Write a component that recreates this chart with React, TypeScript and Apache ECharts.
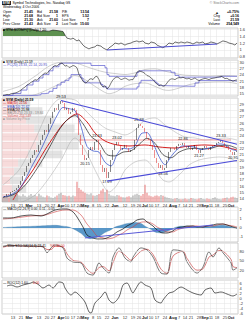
import React, { useEffect, useRef } from 'react';
import * as echarts from 'echarts';

// ---------------- data ----------------
const closes: number[] = [
  14.27, 14.43, 14.75, 14.59, 15.07, 15.23, 15.38, 15.70, 16.18, 16.82,
  17.61, 18.25, 19.20, 19.68, 20.47, 20.95, 21.74, 21.43, 22.54, 23.33, 24.13,
  24.92, 24.61, 25.88, 26.83, 27.79, 28.42, 28.10, 29.06, 29.53, 29.22,
  28.10, 28.42, 27.47, 27.79, 28.42, 28.10, 27.31, 24.13, 22.54, 20.95,
  20.15, 20.47, 21.74, 22.22, 21.74, 23.02, 23.33, 21.74, 19.36, 18.25,
  18.88, 17.29, 18.25, 20.15, 21.74, 22.54, 23.02, 22.54, 21.74, 22.06,
  22.54, 22.06, 21.43, 21.74, 21.74, 23.33, 25.24, 25.88, 25.56, 25.24,
  24.61, 23.65, 23.33, 22.54, 21.74, 20.47, 19.68, 18.88, 19.36, 18.56,
  18.88, 20.15, 21.43, 22.06, 22.06, 21.74, 22.38, 22.70, 22.54, 22.86,
  22.38, 22.06, 22.38, 21.74, 22.06, 22.54, 21.74, 21.27, 21.74, 22.06,
  22.38, 22.06, 21.74, 22.22, 22.38, 22.54, 22.86, 23.02, 23.33, 22.86,
  22.22, 22.38, 21.74, 21.43, 20.95, 21.43, 21.59,
];

const volumes: number[] = [
  220, 180, 260, 200, 300, 340, 420, 380, 300, 260,
  350, 280, 240, 300, 360, 280, 320, 260, 380, 300,
  240, 220, 300, 260, 200, 180, 240, 300, 380, 420,
  320, 300, 260, 280, 240, 300, 260, 920, 640, 560,
  480, 420, 380, 340, 400, 300, 280, 320, 360, 520,
  600, 440, 560, 380, 300, 280, 260, 320, 300, 240,
  220, 200, 240, 260, 220, 300, 340, 380, 320, 280,
  360, 780, 420, 300, 260, 240, 280, 300, 260, 320,
  280, 240, 200, 180, 160, 140, 160, 180, 140, 120,
  140, 160, 120, 140, 180, 160, 140, 120, 160, 180,
  140, 120, 160, 140, 120, 180, 220, 160, 140, 120,
  160, 180, 200, 160, 220, 240, 200, 180,
];

const tickIdx: number[] = [5, 9, 13, 18, 22, 25, 29, 32, 35, 38, 41, 45, 48, 52, 56, 61, 65, 68, 71, 74, 77, 81, 85, 88, 91, 94, 98, 101, 104, 107, 111, 114];
const tickText: string[] = ['13', '21', 'Mar', '13', '20', '27', 'Apr', '10', '17', '24', 'May', '8', '15', '22', 'Jun', '12', '19', '26', 'Jul', '10', '17', '24', 'Aug', '7', '14', '21', '28', 'Sep', '11', '18', '25', 'Oct'];
const monthNames: string[] = ['Mar', 'Apr', 'May', 'Jun', 'Jul', 'Aug', 'Sep', 'Oct'];

// relative strength panel
const rsIdx = [0, 3, 5, 8, 10, 13, 15, 18, 19, 20, 23, 25, 28, 30, 31, 32, 34, 35, 37, 38, 40, 41, 43, 44, 46, 47, 49, 50, 52, 53, 55, 56, 58, 59, 61, 62, 64, 65, 67, 68, 70, 71, 73, 74, 76, 77, 79, 80, 82, 83, 85, 86, 88, 89, 91, 92, 94, 95, 97, 98, 100, 101, 103, 104, 106, 107, 109, 110, 112, 113, 115, 116, 117];
const rsVal = [1.59, 1.61, 1.58, 1.61, 1.59, 1.61, 1.58, 1.55, 1.52, 1.55, 1.54, 1.57, 1.55, 1.53, 1.43, 1.34, 1.31, 1.34, 1.26, 1.29, 1.14, 1.09, 1.03, 1.06, 1.09, 1.14, 1.11, 1.06, 1.0, 1.06, 1.14, 1.2, 1.17, 1.2, 1.14, 1.17, 1.2, 1.23, 1.26, 1.23, 1.26, 1.2, 1.17, 1.23, 1.2, 1.14, 1.09, 1.06, 1.14, 1.2, 1.17, 1.23, 1.2, 1.23, 1.2, 1.23, 1.2, 1.17, 1.23, 1.2, 1.23, 1.17, 1.2, 1.23, 1.2, 1.17, 1.23, 1.26, 1.23, 1.2, 1.17, 1.14, 1.2];
const rsBaseline = 1.4;
const rsFillEnd = 31;
const rsTrend = [[52, 1.0], [107, 1.17]];

// moving averages / bands (main panel)
const emaFastIdx = [0, 3, 6, 9, 12, 15, 18, 21, 24, 27, 30, 33, 36, 39, 42, 45, 48, 51, 54, 57, 60, 63, 66, 69, 72, 75, 78, 81, 84, 87, 90, 93, 96, 99, 102, 105, 108, 111, 114, 117];
const emaFastVal = [14.3, 14.5, 15.0, 15.9, 17.6, 19.5, 21.2, 23.2, 25.3, 27.2, 28.5, 28.3, 28.0, 25.5, 22.3, 21.6, 21.4, 19.8, 19.2, 21.0, 22.0, 21.9, 22.4, 24.3, 24.5, 22.9, 20.7, 19.4, 20.7, 21.8, 22.4, 22.3, 22.2, 21.8, 22.0, 22.2, 22.7, 22.6, 21.9, 21.6];
const emaMidIdx = [0, 4, 8, 12, 16, 20, 24, 28, 32, 36, 40, 44, 48, 52, 56, 60, 64, 68, 72, 76, 80, 84, 88, 92, 96, 100, 104, 108, 112, 117];
const emaMidVal = [14.2, 14.5, 15.2, 16.5, 18.3, 20.3, 22.6, 24.9, 26.5, 27.2, 25.9, 23.9, 22.9, 21.0, 20.8, 21.4, 21.6, 22.6, 23.6, 22.8, 21.0, 20.5, 21.4, 21.9, 22.0, 21.9, 22.0, 22.4, 22.5, 22.0];
const maRedIdx = [5, 8, 15, 21, 26, 31, 37, 42, 46, 51, 57, 63, 71, 78, 86, 93, 101, 108, 113, 117];
const maRedVal = [13.8, 15.4, 18.56, 21.74, 24.13, 26.2, 27.47, 26.2, 24.45, 23.17, 22.54, 22.38, 22.54, 22.22, 22.06, 22.38, 22.54, 22.38, 22.06, 21.74];
const bbUpIdx = [0, 8, 16, 23, 29, 36, 41, 46, 51, 56, 61, 66, 71, 76, 81, 86, 91, 96, 101, 106, 111, 117];
const bbUpVal = [16.18, 18.56, 23.33, 28.10, 29.9, 29.69, 28.10, 26.51, 25.24, 24.61, 24.13, 24.92, 26.51, 26.83, 25.72, 24.61, 23.81, 23.65, 23.33, 23.49, 23.65, 23.33];
const bbLoIdx = [0, 8, 16, 23, 29, 36, 41, 46, 50, 53, 57, 61, 66, 71, 76, 80, 83, 88, 93, 98, 103, 108, 113, 117];
const bbLoVal = [13.0, 13.32, 14.59, 17.29, 20.15, 23.65, 21.74, 18.56, 16.18, 15.07, 16.18, 18.56, 19.84, 20.15, 18.56, 16.97, 16.66, 17.77, 19.36, 20.15, 20.47, 20.63, 20.47, 19.84];
const trendUpper = [[29, 29.6], [117, 22.65]];
const trendLower = [[52, 16.8], [117, 20.07]];
const resistance = [[38, 23.33], [114, 23.33]];
const topIdx = [29, 47, 57, 68, 90, 109];
const lowIdx = [41, 52, 80, 98, 115];

// volume by price (12 bins, bottom to top)
const vbpDown = [3, 5, 4, 6, 8, 13, 17, 18, 16, 12, 9, 7];
const vbpUp = [5, 7, 6, 8, 12, 17, 21, 22, 20, 14, 11, 7];

// price channel (panel 2)
const chanTop = [[0, 14.3], [5, 15.2], [9, 16.8], [12, 19.2], [15, 21.0], [18, 22.5], [20, 24.1], [23, 25.9], [25, 27.8], [28, 29.1], [29, 29.5], [43, 29.5], [44, 28.4], [49, 28.4], [51, 27.3], [52, 24.1], [53, 23.3], [66, 23.3], [67, 25.2], [68, 25.9], [82, 25.9], [84, 25.2], [86, 23.7], [88, 22.9], [107, 22.9], [109, 23.3], [117, 23.3]];
const chanBot = [[0, 14.3], [15, 14.3], [17, 14.6], [19, 15.1], [21, 15.4], [23, 16.2], [25, 17.6], [27, 19.2], [29, 20.5], [31, 21.4], [33, 22.5], [34, 24.1], [38, 24.1], [39, 22.5], [40, 21.0], [41, 20.2], [49, 19.4], [50, 18.3], [52, 17.3], [66, 17.3], [67, 18.3], [68, 20.2], [69, 21.4], [76, 20.5], [77, 19.7], [78, 18.9], [80, 18.6], [94, 18.6], [96, 20.2], [98, 21.3], [112, 21.3], [115, 21.0], [117, 21.0]];

// MACD
const macdIdx = [0, 4, 9, 14, 19, 23, 26, 30, 32, 35, 37, 40, 42, 45, 47, 50, 52, 55, 57, 60, 62, 65, 67, 70, 72, 75, 77, 80, 82, 85, 87, 90, 92, 95, 97, 100, 102, 105, 107, 110, 112, 115, 117];
const macdVal = [1.11, 1.11, 1.33, 1.44, 1.33, 1.67, 2.0, 2.11, 2.11, 1.78, 1.22, 0.11, -0.78, -1.11, -1.22, -1.22, -1.11, -0.78, -0.44, -0.11, 0.22, 0.56, 0.89, 1.0, 0.67, 0.22, -0.22, -0.56, -0.56, -0.33, 0, 0.11, 0.22, 0.22, 0.11, 0.11, 0.22, 0.33, 0.44, 0.44, 0.33, 0.11, 0];
const sigIdx = [0, 6, 14, 21, 26, 31, 35, 39, 42, 45, 47, 50, 52, 55, 57, 60, 62, 65, 67, 70, 72, 75, 77, 80, 82, 85, 87, 90, 92, 95, 97, 100, 102, 105, 107, 110, 112, 115, 117];
const sigVal = [1.0, 1.11, 1.33, 1.44, 1.78, 2.0, 2.0, 1.44, 0.44, -0.33, -0.89, -1.11, -1.22, -1.11, -0.89, -0.56, -0.22, 0.11, 0.44, 0.67, 0.67, 0.44, 0.11, -0.22, -0.44, -0.44, -0.22, 0, 0.11, 0.22, 0.22, 0.11, 0.22, 0.22, 0.33, 0.44, 0.33, 0.22, 0.11];
const histIdx = [0, 6, 11, 16, 21, 26, 30, 33, 36, 39, 41, 44, 46, 49, 51, 54, 56, 59, 61, 64, 66, 69, 71, 74, 76, 79, 81, 84, 86, 89, 94, 99, 102, 106, 110, 114, 117];
const histVal = [0.05, 0.12, 0.15, 0.2, 0.25, 0.3, 0.2, 0.1, -0.2, -0.6, -1.0, -1.2, -1.1, -0.8, -0.5, -0.2, 0.1, 0.3, 0.45, 0.55, 0.6, 0.5, 0.2, -0.15, -0.45, -0.55, -0.45, -0.2, 0.05, 0.2, 0.15, 0.05, 0.15, 0.25, 0.3, 0.1, -0.05];
const macdTrend = [[41, -1.11], [105, 0.33]];

// Stochastics
const stIdx = [0, 4, 8, 14, 20, 22, 24, 26, 30, 32, 35, 39, 42, 45, 48, 50, 53, 55, 58, 61, 64, 65, 69, 72, 75, 79, 82, 85, 90, 92, 97, 100, 103, 105, 108, 110, 114, 115, 117];
const stK = [95, 99, 96, 96, 93, 75, 90, 99, 90, 59, 47, 44, 13, 7, 44, 29, 13, 62, 90, 59, 47, 62, 90, 84, 62, 13, 10, 84, 78, 47, 13, 32, 78, 62, 90, 75, 44, 22, 29];
const stD = [92, 97, 96, 95, 94, 85, 85, 95, 93, 72, 52, 47, 25, 12, 30, 33, 20, 45, 80, 68, 52, 56, 80, 86, 70, 25, 12, 65, 80, 58, 22, 26, 62, 68, 82, 80, 55, 33, 30];
const stLevels = [20, 50, 80];

// ROC panel
const rocIdx = [2, 4, 7, 10, 14, 15, 18, 20, 23, 25, 28, 30, 31, 34, 36, 39, 41, 43, 44, 46, 49, 51, 53, 55, 58, 60, 62, 65, 66, 69, 71, 74, 76, 79, 80, 83, 85, 89, 92, 95, 99, 101, 104, 106, 109, 112, 115, 117];
const rocVal = [4.8, 5.2, 4.4, 5.2, 6.0, 6.4, 5.2, 4.0, 5.2, 4.0, 6.4, 6.0, 4.0, 1.2, 2.4, 0.4, -1.6, -5.6, -6.0, -2.0, 0.4, 2.4, -0.8, -2.0, 0.4, 5.2, 6.0, 2.0, 3.2, 6.4, 5.2, 4.0, -0.8, -2.0, -0.8, 2.0, 2.4, 4.4, 3.2, 2.0, 1.2, 3.2, 4.0, 2.0, 2.4, 1.6, 0.8, 1.6];

// ---------------- option ----------------
const FONT = 'Liberation Sans, Arial, sans-serif';
const pairs = (idx: number[], val: number[]) => idx.map((x, k) => [x, val[k]]);

function buildOption(): any {
  const cats = closes.map((_, i) => String(i));
  const tickMap: Record<string, string> = {};
  tickIdx.forEach((ix, k) => { tickMap[String(ix)] = tickText[k]; });
  const tickSet = new Set(tickIdx);

  const xCat = (gridIndex: number, showLabels: boolean, showSplit = true) => ({
    type: 'category', gridIndex, data: cats, boundaryGap: true,
    axisLine: { show: false }, axisTick: { show: false },
    axisLabel: {
      show: showLabels, interval: 0, fontSize: 4, color: '#333', margin: 1.2, fontFamily: FONT,
      formatter: (v: string) => {
        const t = tickMap[v];
        if (!t) return '';
        return monthNames.includes(t) ? `{m|${t}}` : t;
      },
      rich: { m: { fontSize: 4, fontWeight: 'bold', color: '#111', fontFamily: FONT } },
    },
    splitLine: { show: showSplit, interval: (i: number) => tickSet.has(i), lineStyle: { color: '#e2e2e2', width: 0.5 } },
  });

  const yVal = (gridIndex: number, min: number, max: number, splitNumber: number, extra: any = {}) => ({
    type: 'value', gridIndex, position: 'right', min, max, splitNumber,
    axisLine: { show: false }, axisTick: { show: false },
    axisLabel: { fontSize: 4, color: '#333', margin: 1.5, fontFamily: FONT, showMinLabel: false, showMaxLabel: false },
    splitLine: { show: true, lineStyle: { color: '#e2e2e2', width: 0.5 } },
    ...extra,
  });

  const gridBase = { left: 2, right: 10, show: true, borderColor: '#9c9c9c', borderWidth: 0.5, backgroundColor: '#fff' };

  const line = (xi: number, data: any[], color: string, width: number, extra: any = {}) => ({
    type: 'line', xAxisIndex: xi, yAxisIndex: xi, data, symbol: 'none', silent: true, z: 4,
    lineStyle: { color, width }, itemStyle: { color }, ...extra,
  });

  const ohlc = closes.map((c, i) => {
    const o = i ? closes[i - 1] : c;
    return [o, c, Math.min(o, c), Math.max(o, c)];
  });
  const volData = volumes.map((v, i) => ({
    value: v,
    itemStyle: { color: i && closes[i] < closes[i - 1] ? 'rgba(225,80,80,0.6)' : 'rgba(110,110,110,0.5)' },
  }));
  const rsData = pairs(rsIdx, rsVal);
  const rsHead = rsData.filter((p) => p[0] <= rsFillEnd);

  const t = (x: number, y: number, text: string, o: any = {}) => ({
    type: 'text', x, y, silent: true, z: 100,
    style: {
      text, fontSize: o.fs ?? 4, fontFamily: FONT, fontWeight: o.fw ?? 'normal',
      fill: o.c ?? '#000', align: o.a ?? 'left', verticalAlign: 'top',
    },
  });

  const rowsY = [10, 14, 18, 22];
  const graphic: any[] = [
    { type: 'rect', shape: { x: 2, y: 1, width: 9, height: 4 }, style: { fill: '#222' }, z: 99, silent: true },
    t(2.6, 1.3, 'SYM', { fs: 3.4, fw: 'bold', c: '#fff' }),
    t(12.5, 1.3, 'Symbol Technologies, Inc. Nasdaq GS', { fs: 3.4 }),
    t(239, 1.3, '© StockCharts.com', { fs: 3.4, a: 'right', c: '#777' }),
    t(3, 5.6, 'Wednesday, 4 Oct 2006', { fs: 3.4 }),
    ...['Open', 'High', 'Low', 'Prev Close'].map((s, k) => t(3, rowsY[k], s, { fs: 3.5 })),
    ...['21.45', '21.68', '21.30', '21.43'].map((s, k) => t(33, rowsY[k], s, { fs: 3.5, fw: 'bold', a: 'right' })),
    ...['Bid', 'Bid Size', 'Ask', 'Ask Size'].map((s, k) => t(37, rowsY[k], s, { fs: 3.5 })),
    ...['21.58', '1', '21.60', '2'].map((s, k) => t(58, rowsY[k], s, { fs: 3.5, fw: 'bold', a: 'right' })),
    ...['P/E', 'EPS', 'Last Size', 'Last Trade'].map((s, k) => t(62, rowsY[k], s, { fs: 3.3 })),
    ...['13.54', '1.52', '7', '15:00'].map((s, k) => t(89, rowsY[k], s, { fs: 3.5, fw: 'bold', a: 'right' })),
    t(215, rowsY[0], '▲', { fs: 4, c: '#222' }),
    ...['Chg', 'Last', 'Volume'].map((s, k) => t(220, rowsY[k + 1], s, { fs: 3.5, a: 'right' })),
    ...['+0.75%', '+0.16', '21.59', '254,549'].map((s, k) => t(239, rowsY[k], s, { fs: 3.5, fw: 'bold', a: 'right' })),
    // panel legends
    t(3, 28.6, '■ SYM:$COMPQ (Daily) 1.20', { fs: 3.3 }),
    t(3, 60.6, '■ SYM (Daily) 21.59', { fs: 3.3 }),
    t(3, 63.8, '— PC(20) 23.33, 22.14, 20.95', { fs: 3.3, c: '#4646c8' }),
    t(3, 98.6, '■ SYM (Daily) 21.59', { fs: 3.3, fw: 'bold' }),
    t(3, 101.8, '— MA(50) 22.06', { fs: 3.3, c: '#d02020' }),
    t(3, 105.0, '— EMA(10) 21.62', { fs: 3.3, c: '#2040c0' }),
    t(3, 108.2, '— EMA(20) 21.98', { fs: 3.3 }),
    t(3, 111.4, '— BB(20,2.0) 23.33 - 19.84', { fs: 3.3, c: '#888' }),
    t(3, 114.6, '— Volume 254,549', { fs: 3.3, c: '#d06060' }),
    t(3, 117.8, '■ Volume by Price', { fs: 3.3, c: '#999' }),
    t(3, 207.8, '— MACD(12,26,9) 0.00, 0.11, -0.05', { fs: 3.3 }),
    t(3, 244.2, '— Slow STO %K(14,3) 29.41', { fs: 3.3 }),
    t(50, 244.2, '%D 30.00', { fs: 3.3, c: '#d02020' }),
    t(3, 281.2, '— ROC(12) 1.60', { fs: 3.3 }),
    t(33, 281.2, '0.00', { fs: 3.3, c: '#d02020' }),
  ];

  return {
    animation: false,
    backgroundColor: '#fff',
    textStyle: { fontFamily: FONT },
    graphic,
    grid: [
      { ...gridBase, top: 28, height: 30 },
      { ...gridBase, top: 60, height: 36 },
      { ...gridBase, top: 98, height: 104 },
      { left: 2, right: 10, top: 180, height: 22, show: false },
      { left: 2, right: 10, top: 98, height: 104, show: false },
      { ...gridBase, top: 207, height: 35 },
      { ...gridBase, top: 243, height: 35 },
      { ...gridBase, top: 280, height: 34 },
    ],
    xAxis: [
      xCat(0, false),
      xCat(1, false),
      xCat(2, true),
      xCat(3, false, false),
      { type: 'value', gridIndex: 4, min: 0, max: 117, show: false },
      xCat(5, false),
      xCat(6, false),
      xCat(7, true),
    ],
    yAxis: [
      yVal(0, 0.77, 1.63, 4),
      yVal(1, 14, 31, 6),
      yVal(2, 13.48, 30, 16),
      { type: 'value', gridIndex: 3, min: 0, max: 1000, show: false },
      { type: 'category', gridIndex: 4, data: vbpUp.map((_, k) => 'b' + k), show: false, boundaryGap: true },
      yVal(5, -1.56, 2.33, 4),
      yVal(6, -2, 105, 10, {
        axisLabel: { fontSize: 4, color: '#333', margin: 1.5, fontFamily: FONT, formatter: (v: number) => (stLevels.includes(v) ? String(v) : '') },
        splitLine: { show: false },
      }),
      yVal(7, -6.4, 7.2, 7),
    ],
    series: [
      // panel 1: relative strength, green fill above the baseline
      line(0, rsHead.map((p) => [p[0], rsBaseline]), 'rgba(0,0,0,0)', 0, { stack: 'rs', z: 2 }),
      line(0, rsHead.map((p) => [p[0], p[1] - rsBaseline]), '#5e9150', 0, { stack: 'rs', areaStyle: { color: '#5e9150', opacity: 1 }, z: 2 }),
      line(0, rsData, '#111', 0.6),
      line(0, rsTrend, '#4b4bd0', 1),
      // panel 2: price + channel
      line(1, pairs(bbUpIdx, bbUpVal), '#a0a0a0', 0.5, { smooth: 0.3 }),
      line(1, pairs(bbLoIdx, bbLoVal), '#a0a0a0', 0.5, { smooth: 0.3 }),
      line(1, chanTop, '#5a5ad0', 0.7, { step: 'end' }),
      line(1, chanBot, '#5a5ad0', 0.7, { step: 'end' }),
      line(1, closes, '#222', 0.6),
      // volume by price
      {
        type: 'bar', xAxisIndex: 4, yAxisIndex: 4, stack: 'vbp', data: vbpDown, barCategoryGap: '12%', z: 1, silent: true,
        itemStyle: { color: 'rgba(240,190,190,0.55)' },
      },
      {
        type: 'bar', xAxisIndex: 4, yAxisIndex: 4, stack: 'vbp', data: vbpUp, barCategoryGap: '12%', z: 1, silent: true,
        itemStyle: { color: 'rgba(200,200,200,0.5)' },
      },
      // volume
      { type: 'bar', xAxisIndex: 3, yAxisIndex: 3, data: volData, barWidth: 1.3, z: 1, silent: true },
      // main price panel
      line(2, pairs(bbUpIdx, bbUpVal), '#a8a8a8', 0.5, { smooth: 0.3 }),
      line(2, pairs(bbLoIdx, bbLoVal), '#a8a8a8', 0.5, { smooth: 0.3 }),
      line(2, resistance, '#f08a8a', 0.8),
      line(2, pairs(maRedIdx, maRedVal), '#d42020', 1, { smooth: 0.3 }),
      line(2, pairs(emaMidIdx, emaMidVal), '#222', 0.7, { smooth: 0.3 }),
      line(2, pairs(emaFastIdx, emaFastVal), '#2a46c8', 0.7, { smooth: 0.3 }),
      {
        type: 'candlestick', xAxisIndex: 2, yAxisIndex: 2, data: ohlc, barWidth: 1.3, z: 5, silent: true,
        itemStyle: { color: '#111', color0: '#e02020', borderColor: '#111', borderColor0: '#e02020', borderWidth: 0.5 },
        markPoint: {
          symbol: 'circle', symbolSize: 0.01, silent: true,
          label: { show: true, fontSize: 3.8, color: '#111', distance: 1.5, formatter: '{c}', fontFamily: FONT },
          data: [
            ...topIdx.map((i) => ({ coord: [String(i), closes[i]], value: closes[i].toFixed(2), label: { position: 'top' } })),
            ...lowIdx.map((i) => ({ coord: [String(i), closes[i]], value: closes[i].toFixed(2), label: { position: 'bottom' } })),
          ],
        },
      },
      line(2, trendUpper, '#4b4bd8', 1.2, { z: 6 }),
      line(2, trendLower, '#4b4bd8', 1.2, { z: 6 }),
      // MACD
      line(5, pairs(histIdx, histVal), '#2a6a9a', 0.3, { smooth: 0.3, areaStyle: { color: '#3d86c0', opacity: 0.85 }, z: 2 }),
      line(5, pairs(sigIdx, sigVal), '#d04040', 0.6, { smooth: 0.3 }),
      line(5, pairs(macdIdx, macdVal), '#111', 0.7, { smooth: 0.3 }),
      line(5, macdTrend, '#5a5ad8', 1),
      // Stochastics
      line(6, pairs(stIdx, stD), '#d06060', 0.8, {
        smooth: 0.3,
        markLine: {
          silent: true, symbol: 'none', label: { show: false },
          lineStyle: { color: '#dcdcdc', width: 0.5, type: 'solid' },
          data: stLevels.map((v) => ({ yAxis: v })),
        },
      }),
      line(6, pairs(stIdx, stK), '#222', 0.6, { smooth: 0.3 }),
      // ROC
      line(7, pairs(rocIdx, rocVal), '#222', 0.7, { smooth: 0.3 }),
    ],
  };
}

export default function App() {
  const ref = useRef<HTMLDivElement>(null);
  useEffect(() => {
    if (!ref.current) return;
    const chart = echarts.init(ref.current, null, { renderer: 'svg' });
    chart.setOption(buildOption());
    return () => chart.dispose();
  }, []);
  return (
    <div
      ref={ref}
      style={{ position: 'fixed', left: 0, top: 0, width: 248, height: 320, background: '#fff' }}
    />
  );
}
